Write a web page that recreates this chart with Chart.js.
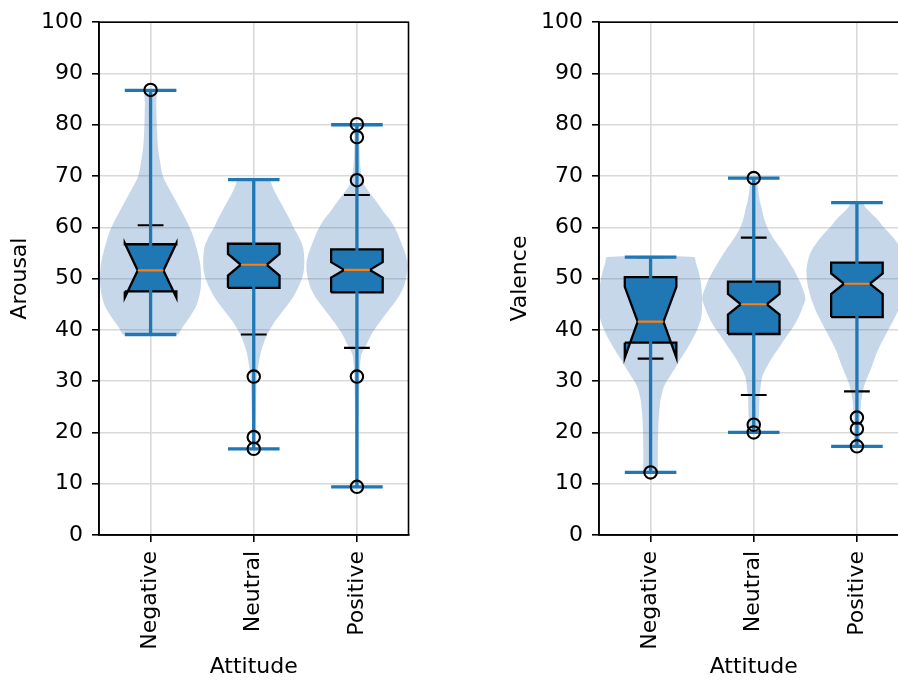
<!DOCTYPE html>
<html>
<head>
<meta charset="utf-8">
<script src="https://cdn.jsdelivr.net/npm/chart.js@4"></script>
<style>
  html, body { margin: 0; padding: 0; width: 898px; height: 680px; overflow: hidden; background: #fff; }
  canvas { position: absolute; top: 0; }
  #arousal { left: 0; }
  #valence { left: 500px; }
</style>
</head>
<body>
<canvas id="arousal" width="450" height="680"></canvas>
<canvas id="valence" width="420" height="680"></canvas>
<script>
const categories = ['Negative', 'Neutral', 'Positive'];
const yTickValues = [0, 10, 20, 30, 40, 50, 60, 70, 80, 90, 100];

// Arousal box statistics (Negative, Neutral, Positive)
const arousalQ1 = [47.5, 48.2, 47.3];
const arousalMedian = [51.6, 52.7, 51.7];
const arousalQ3 = [56.7, 56.8, 55.7];
const arousalNotchLow = [46.3, 50.6, 50.2];
const arousalNotchHigh = [56.9, 54.8, 53.2];
const arousalWhiskerLow = [39.1, 39.1, 36.5];
const arousalWhiskerHigh = [60.4, 69.3, 66.3];
const arousalMin = [39.1, 16.8, 9.4];
const arousalMax = [86.7, 69.3, 80.0];
const arousalOutliers = [[86.8], [30.9, 19.1, 16.8], [80.1, 77.6, 69.2, 30.9, 9.4]];
// violin density: [value, relative half width]
const arousalViolins = [
  [[39.1, 0.27], [40.5, 0.31], [42.5, 0.38], [45, 0.45], [48, 0.485], [50.5, 0.49], [53, 0.48], [56, 0.445],
   [59, 0.40], [62, 0.33], [65, 0.25], [67.5, 0.18], [70, 0.12], [73, 0.09], [76, 0.07], [80, 0.06], [84, 0.055], [86.7, 0.05]],
  [[16.8, 0.015], [20, 0.017], [24, 0.02], [28, 0.025], [31, 0.03], [33, 0.045], [35.3, 0.065], [37, 0.09], [39.1, 0.13],
   [41.5, 0.2], [43.6, 0.28], [46, 0.37], [48.2, 0.43], [50.5, 0.475], [52.7, 0.49], [55.9, 0.48], [58, 0.44], [59.8, 0.39],
   [61.5, 0.35], [63, 0.31], [64.5, 0.27], [66.3, 0.22], [68, 0.18], [69.3, 0.15]],
  [[9.4, 0.015], [15, 0.015], [20, 0.017], [25, 0.02], [28, 0.022], [31, 0.025], [33, 0.03], [35.3, 0.045], [37, 0.09],
   [39.1, 0.14], [41.5, 0.22], [43.6, 0.30], [46, 0.39], [48.2, 0.45], [50.5, 0.48], [52.7, 0.49], [54.5, 0.475],
   [55.9, 0.45], [58, 0.41], [59.8, 0.37], [61.5, 0.32], [63, 0.26], [64.7, 0.20], [66.3, 0.14], [68, 0.08], [69.3, 0.05],
   [72.7, 0.03], [76, 0.025], [80, 0.02]]
];

// Valence box statistics
const valenceQ1 = [37.5, 39.2, 42.5];
const valenceMedian = [41.6, 45.0, 49.0];
const valenceQ3 = [50.3, 49.4, 53.1];
const valenceNotchLow = [34.6, 43.0, 47.0];
const valenceNotchHigh = [48.4, 47.0, 51.0];
const valenceWhiskerLow = [34.4, 27.3, 28.0];
const valenceWhiskerHigh = [54.2, 58.0, 64.8];
const valenceMin = [12.2, 20.0, 17.3];
const valenceMax = [54.2, 69.6, 64.8];
const valenceOutliers = [[12.2], [69.6, 21.5, 20.0], [22.9, 20.7, 17.3]];
const valenceViolins = [
  [[12.2, 0.07], [15, 0.07], [19.7, 0.073], [23, 0.08], [26.2, 0.095], [28, 0.115], [29.4, 0.14], [31, 0.19], [32.6, 0.24],
   [34.3, 0.29], [35.9, 0.34], [38, 0.40], [40, 0.45], [42.3, 0.49], [45.6, 0.5], [48.8, 0.49], [51, 0.47], [53, 0.44], [54.2, 0.42]],
  [[20, 0.04], [22.9, 0.05], [26.8, 0.055], [28.5, 0.065], [30.7, 0.08], [32.5, 0.12], [34.6, 0.18], [36.5, 0.245],
   [38.5, 0.31], [40.5, 0.38], [42.3, 0.43], [44.2, 0.47], [46.2, 0.5], [48.8, 0.46], [50.5, 0.42], [52, 0.38], [53.7, 0.33],
   [55.3, 0.28], [57, 0.22], [58.5, 0.17], [60, 0.13], [61.7, 0.1], [63.5, 0.08], [65, 0.06], [67.5, 0.04], [69.6, 0.03]],
  [[17.3, 0.03], [20, 0.03], [22.9, 0.032], [26.2, 0.042], [29.4, 0.075], [32.6, 0.14], [35.9, 0.2], [39.1, 0.28],
   [42.3, 0.365], [45.6, 0.435], [48.5, 0.475], [51.4, 0.49], [53.5, 0.475], [55.3, 0.445], [57, 0.39], [58.5, 0.33],
   [60, 0.26], [61.7, 0.19], [63.7, 0.09], [64.8, 0.05]]
];

const BLUE = '#1f77b4';
const FONT = { family: 'DejaVu Sans', size: 22 };
Chart.defaults.font.family = 'DejaVu Sans';

// join line pieces with gaps so one dataset can draw several segments
function joinPieces(pieces) {
  const out = [];
  pieces.forEach((p, i) => {
    if (i) out.push({ x: null, y: null });
    out.push(...p);
  });
  return out;
}

function buildDatasets(s) {
  const ds = [];
  s.violins.forEach((prof, i) => {
    const c = i + 1;
    const right = prof.map(([v, w]) => ({ x: c + w, y: v }));
    const left = prof.slice().reverse().map(([v, w]) => ({ x: c - w, y: v }));
    ds.push({ data: right.concat(left), showLine: true, fill: 'shape', backgroundColor: 'rgba(62,118,182,0.29)',
      borderColor: 'rgba(0,0,0,0)', borderWidth: 0, pointRadius: 0, tension: 0.3, order: 6 });
  });

  const blackCaps = [];
  const blueLines = [];
  const medians = [];
  categories.forEach((_, i) => {
    const c = i + 1;
    blackCaps.push([{ x: c - 0.125, y: s.whiskerLow[i] }, { x: c + 0.125, y: s.whiskerLow[i] }]);
    blackCaps.push([{ x: c - 0.125, y: s.whiskerHigh[i] }, { x: c + 0.125, y: s.whiskerHigh[i] }]);
    blueLines.push([{ x: c, y: s.min[i] }, { x: c, y: s.max[i] }]);
    blueLines.push([{ x: c - 0.25, y: s.min[i] }, { x: c + 0.25, y: s.min[i] }]);
    blueLines.push([{ x: c - 0.25, y: s.max[i] }, { x: c + 0.25, y: s.max[i] }]);
    medians.push([{ x: c - 0.125, y: s.median[i] }, { x: c + 0.125, y: s.median[i] }]);

    const L = c - 0.25, R = c + 0.25, mL = c - 0.125, mR = c + 0.125;
    const box = [
      { x: L, y: s.q1[i] }, { x: R, y: s.q1[i] }, { x: R, y: s.notchLow[i] }, { x: mR, y: s.median[i] },
      { x: R, y: s.notchHigh[i] }, { x: R, y: s.q3[i] }, { x: L, y: s.q3[i] }, { x: L, y: s.notchHigh[i] },
      { x: mL, y: s.median[i] }, { x: L, y: s.notchLow[i] }, { x: L, y: s.q1[i] }
    ];
    ds.push({ data: box, showLine: true, fill: 'shape', backgroundColor: BLUE, borderColor: '#000',
      borderWidth: 2.3, borderJoinStyle: 'miter', pointRadius: 0, tension: 0, order: 4 });
  });

  ds.push({ data: joinPieces(blackCaps), showLine: true, borderColor: '#000', borderWidth: 2.2, pointRadius: 0, order: 5 });
  ds.push({ data: joinPieces(blueLines), showLine: true, borderColor: BLUE, borderWidth: 3.3, pointRadius: 0, order: 3 });
  ds.push({ data: joinPieces(medians), showLine: true, borderColor: '#ff7f0e', borderWidth: 2.2, pointRadius: 0, order: 2 });

  const pts = [];
  s.outliers.forEach((list, i) => list.forEach(v => pts.push({ x: i + 1, y: v })));
  ds.push({ data: pts, showLine: false, pointRadius: 6.2, pointBorderWidth: 2.1, pointBorderColor: '#000',
    pointBackgroundColor: 'rgba(0,0,0,0)', order: 1 });
  return ds;
}

const framePlugin = {
  id: 'frame',
  afterDatasetsDraw(chart) {
    const { ctx, chartArea: a } = chart;
    ctx.save();
    ctx.strokeStyle = '#000';
    ctx.lineWidth = 1.6;
    ctx.strokeRect(a.left, a.top, a.right - a.left, a.bottom - a.top);
    ctx.restore();
  }
};

function makeChart(id, yTitle, stats, rightPad) {
  const grid = { color: '#d9d9d9', lineWidth: 1.6, tickColor: '#000', tickLength: 7, tickWidth: 1.6 };
  new Chart(document.getElementById(id), {
    type: 'scatter',
    data: { datasets: buildDatasets(stats) },
    plugins: [framePlugin],
    options: {
      responsive: false,
      animation: false,
      events: [],
      layout: { padding: { left: 0, top: 20, right: rightPad, bottom: 0 } },
      plugins: { legend: { display: false }, tooltip: { enabled: false } },
      scales: {
        x: {
          type: 'linear', min: 0.5, max: 3.5,
          afterBuildTicks: sc => { sc.ticks = categories.map((_, i) => ({ value: i + 1 })); },
          afterFit: sc => { sc.height = 145; },
          ticks: { callback: v => categories[v - 1], minRotation: 90, maxRotation: 90, autoSkip: false,
            padding: 9, color: '#000', font: FONT },
          grid: grid,
          border: { color: '#000', width: 1.6 },
          title: { display: true, text: 'Attitude', color: '#000', font: FONT, padding: { top: 0, bottom: 0 } }
        },
        y: {
          type: 'linear', min: 0, max: 100,
          afterBuildTicks: sc => { sc.ticks = yTickValues.map(v => ({ value: v })); },
          afterFit: sc => { sc.width = 99; },
          ticks: { color: '#000', font: FONT, padding: 9 },
          grid: grid,
          border: { color: '#000', width: 1.6 },
          title: { display: true, text: yTitle, color: '#000', font: FONT, padding: { top: 7, bottom: 0 } }
        }
      }
    }
  });
}

makeChart('arousal', 'Arousal', {
  q1: arousalQ1, median: arousalMedian, q3: arousalQ3, notchLow: arousalNotchLow, notchHigh: arousalNotchHigh,
  whiskerLow: arousalWhiskerLow, whiskerHigh: arousalWhiskerHigh, min: arousalMin, max: arousalMax,
  outliers: arousalOutliers, violins: arousalViolins
}, 41.5);

makeChart('valence', 'Valence', {
  q1: valenceQ1, median: valenceMedian, q3: valenceQ3, notchLow: valenceNotchLow, notchHigh: valenceNotchHigh,
  whiskerLow: valenceWhiskerLow, whiskerHigh: valenceWhiskerHigh, min: valenceMin, max: valenceMax,
  outliers: valenceOutliers, violins: valenceViolins
}, 11.5);
</script>
</body>
</html>
